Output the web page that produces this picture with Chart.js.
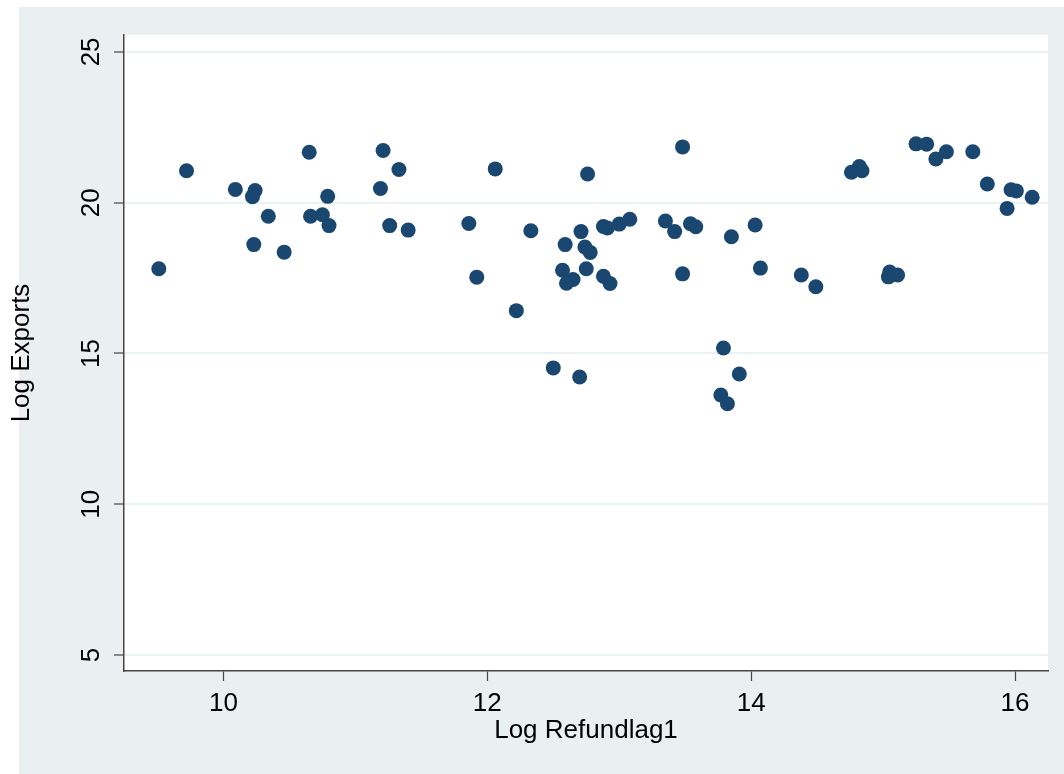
<!DOCTYPE html>
<html>
<head>
<meta charset="utf-8">
<script src="https://cdn.jsdelivr.net/npm/chart.js@4.4.0/dist/chart.umd.min.js"></script>
<style>
    html, body { margin: 0; padding: 0; background: #fff; }
    #wrap { width: 1064px; height: 774px; position: relative; }
</style>
</head>
<body>
<div id="wrap"><canvas id="scatterChart" width="1064" height="774"></canvas></div>
<script>
// data
const refundLag = [9.51, 9.72, 10.09, 10.24, 10.22, 10.34, 10.23, 10.46, 10.65, 10.79,
    10.66, 10.75, 10.80, 11.21, 11.33, 11.19, 11.26, 11.40, 12.06, 12.76,
    13.48, 11.86, 11.92, 12.22, 12.33, 12.59, 12.71, 12.74, 12.78, 12.57,
    12.65, 12.60, 12.75, 12.88, 12.93, 12.88, 12.91, 13.00, 13.08, 13.35,
    13.42, 13.54, 13.58, 13.85, 13.48, 14.03, 14.07, 14.38, 14.49, 14.76,
    14.82, 14.84, 15.04, 15.05, 15.11, 15.25, 15.33, 15.40, 15.48, 15.68,
    15.79, 15.97, 16.01, 16.13, 15.94, 13.79, 12.50, 12.70, 13.91, 13.77,
    13.82];
const exportsLog = [17.81, 21.06, 20.44, 20.40, 20.20, 19.55, 18.61, 18.36, 21.67, 20.21,
    19.55, 19.60, 19.24, 21.73, 21.10, 20.47, 19.24, 19.09, 21.12, 20.95,
    21.85, 19.31, 17.53, 16.42, 19.07, 18.61, 19.04, 18.53, 18.35, 17.76,
    17.45, 17.33, 17.81, 17.56, 17.32, 19.21, 19.16, 19.29, 19.45, 19.39,
    19.04, 19.30, 19.20, 18.87, 17.64, 19.26, 17.83, 17.60, 17.21, 21.01,
    21.20, 21.06, 17.54, 17.70, 17.60, 21.95, 21.94, 21.45, 21.69, 21.69,
    20.62, 20.43, 20.39, 20.18, 19.81, 15.18, 14.52, 14.22, 14.32, 13.62,
    13.33];
const xTicks = [10, 12, 14, 16];
const yTicks = [5, 10, 15, 20, 25];

const FONT = '"Liberation Sans", Arial, sans-serif';
const FSIZE = 26;

// grey outer region + white plot region
const bgPlugin = {
    id: 'bgPlugin',
    beforeDraw(chart) {
        const { ctx, chartArea: a } = chart;
        ctx.save();
        ctx.fillStyle = '#eaf0f2';
        ctx.fillRect(19, 7, 1045, 767);
        ctx.fillStyle = '#ffffff';
        ctx.fillRect(a.left, a.top, a.right - a.left, a.bottom - a.top);
        ctx.restore();
    }
};

// vertical y tick labels
const yLabelPlugin = {
    id: 'yLabelPlugin',
    afterDraw(chart) {
        const ctx = chart.ctx;
        const s = chart.scales.y;
        ctx.save();
        ctx.font = FSIZE + 'px ' + FONT;
        ctx.fillStyle = '#000';
        ctx.textAlign = 'center';
        ctx.textBaseline = 'alphabetic';
        yTicks.forEach(v => {
            const p = s.getPixelForValue(v);
            ctx.save();
            ctx.translate(99, p);
            ctx.rotate(-Math.PI / 2);
            ctx.fillText(String(v), 0, 0);
            ctx.restore();
        });
        ctx.restore();
    }
};

const points = refundLag.map((x, i) => ({ x: x, y: exportsLog[i] }));

new Chart(document.getElementById('scatterChart'), {
    type: 'scatter',
    data: {
        datasets: [{
            label: 'Log Exports',
            data: points,
            backgroundColor: '#1a476f',
            borderColor: '#1a476f',
            borderWidth: 0,
            pointRadius: 7.5,
            pointHoverRadius: 7.5
        }]
    },
    options: {
        responsive: false,
        animation: false,
        devicePixelRatio: 1,
        layout: { padding: { left: 0, top: 35, right: 16, bottom: 0 } },
        plugins: {
            legend: { display: false },
            tooltip: { enabled: false }
        },
        scales: {
            x: {
                type: 'linear',
                min: 9.246,
                max: 16.25,
                afterBuildTicks: s => { s.ticks = xTicks.map(v => ({ value: v })); },
                afterFit: s => { s.height = 103; },
                grid: { drawOnChartArea: false, drawTicks: true, tickLength: 10, tickColor: '#444', tickWidth: 1.2 },
                border: { display: true, color: '#444', width: 1.5 },
                ticks: { color: '#000', font: { family: FONT, size: FSIZE }, padding: 7, maxRotation: 0, autoSkip: false },
                title: { display: true, text: 'Log Refundlag1', color: '#000', font: { family: FONT, size: FSIZE }, padding: { top: 0, bottom: 28 } }
            },
            y: {
                type: 'linear',
                min: 4.47,
                max: 25.56,
                afterBuildTicks: s => { s.ticks = yTicks.map(v => ({ value: v })); },
                afterFit: s => { s.width = 124; },
                grid: { color: '#eaf2f3', lineWidth: 2, drawTicks: true, tickLength: 10, tickColor: '#444', tickWidth: 1.2 },
                border: { display: true, color: '#444', width: 1.5 },
                ticks: { display: false },
                title: { display: true, text: 'Log Exports', color: '#000', font: { family: FONT, size: FSIZE }, padding: { top: 6, bottom: 0 } }
            }
        }
    },
    plugins: [bgPlugin, yLabelPlugin]
});
</script>
</body>
</html>
